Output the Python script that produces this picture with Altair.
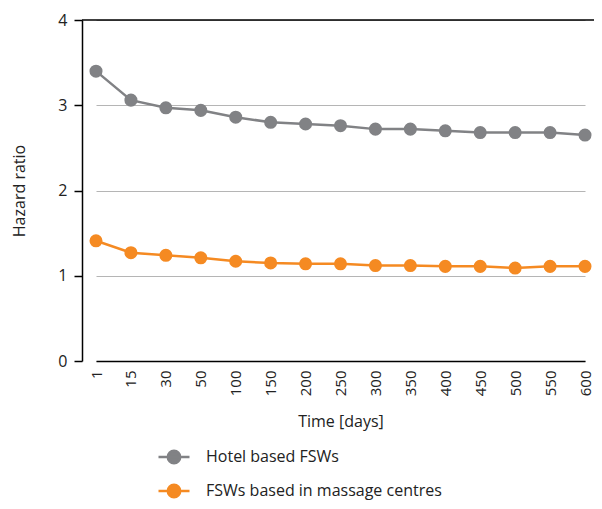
import altair as alt
import pandas as pd

days = ["1", "15", "30", "50", "100", "150", "200", "250", "300", "350", "400", "450", "500", "550", "600"]
hotel = [3.40, 3.06, 2.97, 2.94, 2.86, 2.80, 2.78, 2.76, 2.72, 2.72, 2.70, 2.68, 2.68, 2.68, 2.65]
massage = [1.41, 1.27, 1.24, 1.21, 1.17, 1.15, 1.14, 1.14, 1.12, 1.12, 1.11, 1.11, 1.09, 1.11, 1.11]
series = ["Hotel based FSWs", "FSWs based in massage centres"]
colors = ["#818285", "#F58A22"]

rows = []
for d, v in zip(days, hotel):
    rows.append({"day": d, "hr": v, "series": series[0]})
for d, v in zip(days, massage):
    rows.append({"day": d, "hr": v, "series": series[1]})
df = pd.DataFrame(rows)

FONT = "Open Sans"
sym = "M-1,0H1M-0.4,0A0.4,0.4,0,1,1,0.4,0A0.4,0.4,0,1,1,-0.4,0Z"

base = alt.Chart(df).encode(
    x=alt.X("day:N", sort=days, scale=alt.Scale(type="point", padding=0, range=[14, 503]),
            axis=alt.Axis(title="Time [days]", labelAngle=270, ticks=False,
                          labelPadding=9, titlePadding=18, domainColor="black",
                          domainWidth=1.5, grid=False)),
    y=alt.Y("hr:Q", scale=alt.Scale(domain=[0, 4]),
            axis=alt.Axis(title="Hazard ratio", values=[0, 1, 2, 3, 4], format="d", tickSize=8,
                          tickColor="black", tickWidth=1.5, labelPadding=7,
                          titlePadding=30, domainColor="black", domainWidth=1.5,
                          grid=True, gridColor="#b5b5b5", gridWidth=1.2)),
    color=alt.Color("series:N", scale=alt.Scale(domain=series, range=colors),
                    legend=alt.Legend(title=None, orient="none", legendX=75, legendY=420,
                                      direction="vertical", symbolType=sym, symbolSize=961,
                                      symbolStrokeWidth=2.5, labelOffset=15, rowPadding=5,
                                      labelFontSize=16, labelColor="#222", labelLimit=0,
                                      padding=0)),
)

line = base.mark_line(strokeWidth=2.5)
pts = base.mark_circle(size=170, opacity=1)
top = alt.Chart(pd.DataFrame({"y": [4]})).mark_rule(color="black", strokeWidth=1.5).encode(y="y:Q")

chart = alt.layer(line, pts, top).properties(
    width=512, height=341,
    autosize=alt.AutoSizeParams(type="none"),
    padding={"left": 74, "top": 12, "right": 0, "bottom": 140},
).configure_view(stroke=None).configure_axis(
    labelFont=FONT, titleFont=FONT, labelFontSize=16, titleFontSize=16,
    labelColor="#222", titleColor="#222", titleFontWeight="normal",
).configure_axisX(labelFontSize=15).configure_legend(labelFont=FONT)

chart.save("out.html", embed_options={"renderer": "svg", "actions": False})
